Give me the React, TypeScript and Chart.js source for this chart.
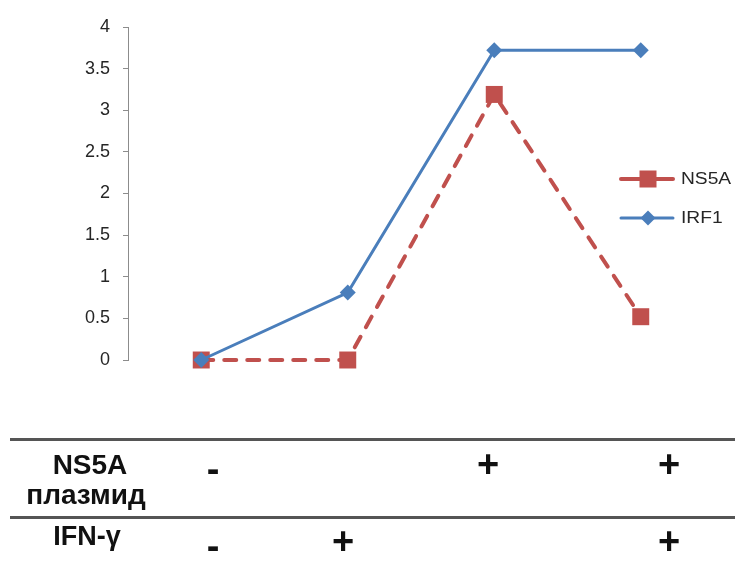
import React, { useEffect, useRef } from "react";
import { Chart, registerables } from "chart.js";

Chart.register(...registerables);

// ---- data ----
const categories = ["1", "2", "3", "4"];
const ns5aValues = [0, 0, 3.19, 0.52];
const irf1Values = [0, 0.81, 3.72, 3.72];
const seriesNames = ["NS5A", "IRF1"];
const yMin = 0;
const yMax = 4;
const yStep = 0.5;

// table under the chart
const rowLabels = [["NS5A", "плазмид"], ["IFN-γ"]];
const ns5aMarks = ["-", "", "+", "+"];
const ifnMarks = ["-", "+", "", "+"];

const RED = "#C0504D";
const BLUE = "#4A7EBB";

const legendPlugin = {
  id: "customLegend",
  afterDraw(chart: any) {
    const ctx = chart.ctx as CanvasRenderingContext2D;
    const items = [
      { name: seriesNames[0], color: RED, y: 179, style: "rect", lw: 4 },
      { name: seriesNames[1], color: BLUE, y: 218, style: "diamond", lw: 3 },
    ];
    ctx.save();
    items.forEach((it) => {
      ctx.strokeStyle = it.color;
      ctx.lineWidth = it.lw;
      ctx.lineCap = "round";
      ctx.beginPath();
      ctx.moveTo(621, it.y);
      ctx.lineTo(673, it.y);
      ctx.stroke();
      ctx.fillStyle = it.color;
      if (it.style === "rect") {
        ctx.fillRect(648 - 8.5, it.y - 8.5, 17, 17);
      } else {
        ctx.beginPath();
        ctx.moveTo(648, it.y - 7.5);
        ctx.lineTo(655.5, it.y);
        ctx.lineTo(648, it.y + 7.5);
        ctx.lineTo(640.5, it.y);
        ctx.closePath();
        ctx.fill();
      }
      ctx.save();
      ctx.translate(681, it.y);
      ctx.scale(1.2, 1);
      ctx.fillStyle = "#262626";
      ctx.font = "16px 'Liberation Sans', Arial, sans-serif";
      ctx.textBaseline = "middle";
      ctx.textAlign = "left";
      ctx.fillText(it.name, 0, 1);
      ctx.restore();
    });
    ctx.restore();
  },
};

function ChartCanvas() {
  const ref = useRef<HTMLCanvasElement | null>(null);
  useEffect(() => {
    if (!ref.current) return;
    const chart = new Chart(ref.current, {
      type: "line",
      data: {
        labels: categories,
        datasets: [
          {
            label: seriesNames[0],
            data: ns5aValues,
            borderColor: RED,
            backgroundColor: RED,
            borderWidth: 4,
            borderDash: [12, 11],
            borderCapStyle: "round",
            pointStyle: "rect",
            pointRadius: 12,
            pointHoverRadius: 12,
            pointBorderWidth: 0,
            pointBackgroundColor: RED,
            tension: 0,
            clip: false,
            order: 1,
          } as any,
          {
            label: seriesNames[1],
            data: irf1Values,
            borderColor: BLUE,
            backgroundColor: BLUE,
            borderWidth: 3,
            pointStyle: "rectRot",
            pointRadius: 8,
            pointHoverRadius: 8,
            pointBorderWidth: 0,
            pointBackgroundColor: BLUE,
            tension: 0,
            clip: false,
            order: 0,
          } as any,
        ],
      },
      options: {
        animation: false,
        responsive: false,
        events: [],
        layout: { padding: { top: 27, bottom: 228, left: 0, right: 21 } },
        plugins: {
          legend: { display: false },
          tooltip: { enabled: false },
          title: { display: false },
        },
        scales: {
          x: {
            type: "category",
            offset: true,
            display: false,
          },
          y: {
            min: yMin,
            max: yMax,
            ticks: {
              stepSize: yStep,
              padding: 13,
              color: "#262626",
              font: { family: "'Liberation Sans', Arial, sans-serif", size: 18 },
              callback: (v: any) => String(Number(v)),
            },
            grid: {
              display: true,
              drawOnChartArea: false,
              drawTicks: true,
              tickLength: 5,
              color: "#8c8c8c",
            },
            border: { display: true, color: "#8c8c8c", width: 1 },
            afterFit: (scale: any) => {
              scale.width = 128;
            },
          },
        },
      },
      plugins: [legendPlugin],
    });
    return () => chart.destroy();
  }, []);
  return <canvas ref={ref} width={735} height={588} style={{ position: "absolute", left: 0, top: 0 }} />;
}

const labelFont = "'Liberation Sans', Arial, sans-serif";

function Txt(props: { x: number; baseline: number; size: number; text: string }) {
  const { x, baseline, size, text } = props;
  return (
    <div
      style={{
        position: "absolute",
        left: x - 100,
        width: 200,
        top: baseline - 0.8465 * size,
        fontSize: size,
        lineHeight: 1,
        fontWeight: "bold",
        fontFamily: labelFont,
        textAlign: "center",
        color: "#111",
        whiteSpace: "nowrap",
      }}
    >
      {text}
    </div>
  );
}

const markCols = [213, 343, 488, 669];

export default function App() {
  return (
    <div style={{ position: "absolute", left: 0, top: 0, width: 735, height: 588, background: "#fff", overflow: "hidden" }}>
      <ChartCanvas />
      <div style={{ position: "absolute", left: 10, top: 438, width: 725, height: 3, background: "#555" }} />
      <div style={{ position: "absolute", left: 10, top: 516, width: 725, height: 3, background: "#555" }} />
      <Txt x={90} baseline={475} size={28} text={rowLabels[0][0]} />
      <Txt x={86} baseline={505} size={28} text={rowLabels[0][1]} />
      <Txt x={87} baseline={546} size={27} text={rowLabels[1][0]} />
      {ns5aMarks.map((m, i) =>
        m ? <Txt key={"a" + i} x={markCols[i]} baseline={m === "+" ? 477 : 482} size={38} text={m} /> : null
      )}
      {ifnMarks.map((m, i) =>
        m ? <Txt key={"b" + i} x={markCols[i]} baseline={m === "+" ? 554 : 559} size={38} text={m} /> : null
      )}
    </div>
  );
}
